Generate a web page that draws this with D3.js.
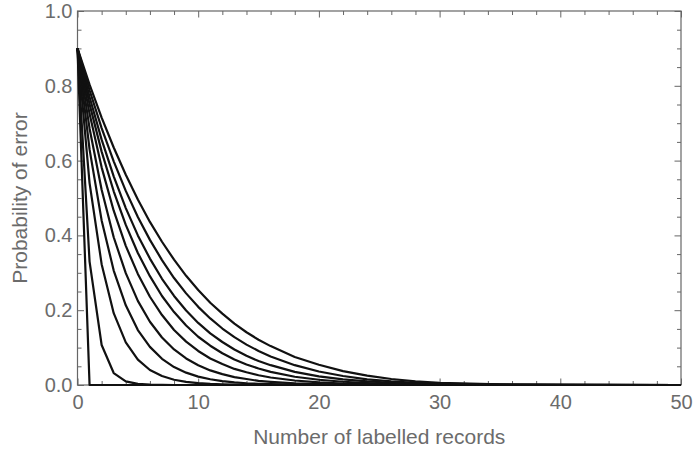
<!DOCTYPE html>
<html>
<head>
<meta charset="utf-8">
<script src="https://cdn.jsdelivr.net/npm/d3@7"></script>
<style>
  body { margin: 0; background: #fff; }
  svg text { font-family: "Liberation Sans", Arial, Helvetica, sans-serif; }
</style>
</head>
<body>
<div id="chart"></div>
<script>
// number of labelled records at which each curve was sampled
const xSamples = [0, 1, 2, 3, 4, 5, 6, 7, 8, 9, 10, 11, 12, 13, 14, 15, 16, 18, 20, 22, 24, 26, 28, 30, 35, 40, 50];

// probability of error, one array per curve (steepest first)
const errA = [0.9, 0, 0, 0, 0, 0, 0, 0, 0, 0, 0, 0, 0, 0, 0, 0, 0, 0, 0, 0, 0, 0, 0, 0, 0, 0, 0];
const errB = [0.9, 0.33, 0.107, 0.032, 0.0095, 0.003, 0.001, 0.0003, 0, 0, 0, 0, 0, 0, 0, 0, 0, 0, 0, 0, 0, 0, 0, 0, 0, 0, 0];
const errC = [0.9, 0.54, 0.323, 0.192, 0.114, 0.068, 0.04, 0.024, 0.014, 0.0082, 0.0048, 0.0028, 0.0016, 0.0009, 0.0005, 0.0003, 0.0002, 0, 0, 0, 0, 0, 0, 0, 0, 0, 0];
const errD = [0.9, 0.63, 0.44, 0.306, 0.213, 0.147, 0.102, 0.07, 0.048, 0.033, 0.0225, 0.0153, 0.0104, 0.007, 0.0047, 0.0032, 0.0021, 0.0009, 0.0004, 0.0001, 0, 0, 0, 0, 0, 0, 0];
const errE = [0.9, 0.686, 0.522, 0.395, 0.299, 0.225, 0.169, 0.127, 0.095, 0.071, 0.053, 0.039, 0.029, 0.021, 0.016, 0.011, 0.0084, 0.0044, 0.0023, 0.0012, 0.0006, 0.0003, 0.0001, 0, 0, 0, 0];
const errF = [0.9, 0.725, 0.582, 0.466, 0.372, 0.297, 0.236, 0.187, 0.147, 0.116, 0.091, 0.071, 0.056, 0.043, 0.034, 0.026, 0.02, 0.012, 0.007, 0.004, 0.0023, 0.0013, 0.0007, 0.0004, 0.0001, 0, 0];
const errG = [0.9, 0.751, 0.624, 0.518, 0.428, 0.353, 0.291, 0.238, 0.195, 0.159, 0.129, 0.105, 0.085, 0.068, 0.055, 0.044, 0.035, 0.022, 0.014, 0.0087, 0.0053, 0.0032, 0.0019, 0.0011, 0.0003, 0.0001, 0];
const errH = [0.9, 0.77, 0.656, 0.558, 0.473, 0.4, 0.338, 0.284, 0.238, 0.199, 0.166, 0.138, 0.115, 0.095, 0.078, 0.064, 0.053, 0.035, 0.023, 0.015, 0.0095, 0.006, 0.0037, 0.0022, 0.0006, 0.0001, 0];
const errI = [0.9, 0.788, 0.687, 0.598, 0.519, 0.449, 0.388, 0.334, 0.286, 0.245, 0.209, 0.178, 0.151, 0.128, 0.108, 0.091, 0.076, 0.053, 0.036, 0.024, 0.015, 0.0095, 0.006, 0.0035, 0.001, 0.0002, 0];
const errJ = [0.9, 0.803, 0.715, 0.635, 0.562, 0.496, 0.436, 0.383, 0.335, 0.292, 0.254, 0.22, 0.191, 0.164, 0.141, 0.121, 0.104, 0.075, 0.054, 0.037, 0.025, 0.016, 0.0095, 0.0055, 0.0015, 0.0003, 0];

const xMajorTicks = [0, 10, 20, 30, 40, 50];
const yMajorTicks = [0, 0.2, 0.4, 0.6, 0.8, 1.0];
const xLabel = "Number of labelled records";
const yLabel = "Probability of error";

const width = 695, height = 455;
const plotLeft = 77.5, plotRight = 681, plotTop = 11, plotBottom = 385;
const frameColor = "#666", textColor = "#6b6b6b";

const x = d3.scaleLinear().domain([0, 50]).range([plotLeft, plotRight]);
const y = d3.scaleLinear().domain([0, 1]).range([plotBottom, plotTop]);

const svg = d3.select("#chart").append("svg")
    .attr("width", width)
    .attr("height", height);

// minor ticks every 2 records / every 0.05
const xMinor = d3.range(0, 50.001, 2).filter(v => v % 10 !== 0);
const yMinor = d3.range(0, 1.0001, 0.05).filter(v => Math.abs(v * 5 - Math.round(v * 5)) > 1e-6);

function styleAxis(g) {
    g.select(".domain").remove();
    g.selectAll(".tick line").attr("stroke", frameColor);
    g.selectAll(".tick text")
        .attr("fill", textColor)
        .style("font-size", "20px");
}

// bottom
svg.append("g").attr("transform", `translate(0,${plotBottom})`)
    .call(d3.axisBottom(x).tickValues(xMajorTicks).tickFormat(d3.format("d")).tickSize(-6.5).tickPadding(10))
    .call(styleAxis);
svg.append("g").attr("transform", `translate(0,${plotBottom})`)
    .call(d3.axisBottom(x).tickValues(xMinor).tickFormat("").tickSize(-4))
    .call(styleAxis);
// top
svg.append("g").attr("transform", `translate(0,${plotTop})`)
    .call(d3.axisTop(x).tickValues(xMajorTicks).tickFormat("").tickSize(-6.5))
    .call(styleAxis);
svg.append("g").attr("transform", `translate(0,${plotTop})`)
    .call(d3.axisTop(x).tickValues(xMinor).tickFormat("").tickSize(-4))
    .call(styleAxis);
// left
svg.append("g").attr("transform", `translate(${plotLeft},0)`)
    .call(d3.axisLeft(y).tickValues(yMajorTicks).tickFormat(d3.format(".1f")).tickSize(-6.5).tickPadding(5))
    .call(styleAxis);
svg.append("g").attr("transform", `translate(${plotLeft},0)`)
    .call(d3.axisLeft(y).tickValues(yMinor).tickFormat("").tickSize(-4))
    .call(styleAxis);
// right
svg.append("g").attr("transform", `translate(${plotRight},0)`)
    .call(d3.axisRight(y).tickValues(yMajorTicks).tickFormat("").tickSize(-6.5))
    .call(styleAxis);
svg.append("g").attr("transform", `translate(${plotRight},0)`)
    .call(d3.axisRight(y).tickValues(yMinor).tickFormat("").tickSize(-4))
    .call(styleAxis);

// frame
svg.append("rect")
    .attr("x", plotLeft).attr("y", plotTop)
    .attr("width", plotRight - plotLeft).attr("height", plotBottom - plotTop)
    .attr("fill", "none")
    .attr("stroke", frameColor)
    .attr("stroke-width", 1.2);

// curves
const series = [errA, errB, errC, errD, errE, errF, errG, errH, errI, errJ];
const line = d3.line()
    .x((d, i) => x(xSamples[i]))
    .y(d => y(d));

svg.append("g")
    .selectAll("path")
    .data(series)
    .enter()
    .append("path")
    .attr("d", line)
    .attr("fill", "none")
    .attr("stroke", "#111")
    .attr("stroke-width", 2.2)
    .attr("stroke-linejoin", "round");

// axis titles
svg.append("text")
    .attr("x", (plotLeft + plotRight) / 2)
    .attr("y", 444)
    .attr("text-anchor", "middle")
    .attr("fill", textColor)
    .style("font-size", "21px")
    .text(xLabel);

svg.append("text")
    .attr("transform", `translate(27,${(plotTop + plotBottom) / 2}) rotate(-90)`)
    .attr("text-anchor", "middle")
    .attr("fill", textColor)
    .style("font-size", "21px")
    .text(yLabel);
</script>
</body>
</html>
